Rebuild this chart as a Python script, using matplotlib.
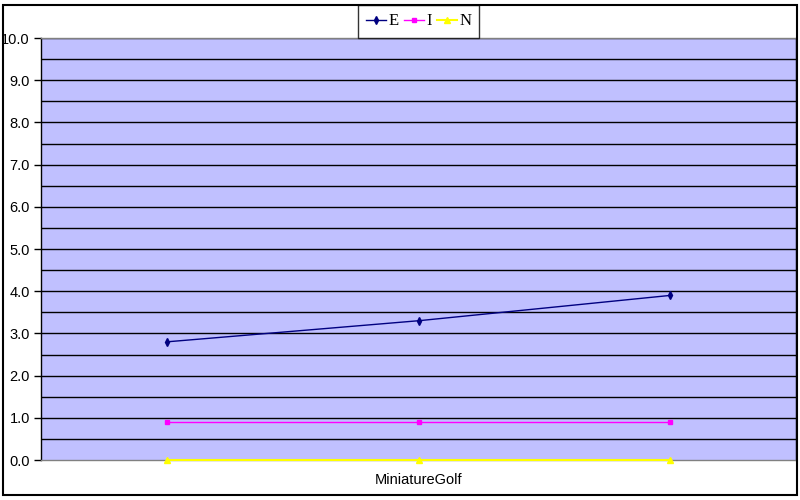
import numpy as np
import matplotlib
matplotlib.use("Agg")
import matplotlib.pyplot as plt
from matplotlib.patches import Rectangle

# --- data ---
positions = [1, 2, 3]
category_label = "MiniatureGolf"
series_names = ["E", "I", "N"]
e_vals = [2.8, 3.3, 3.9]
i_vals = [0.9, 0.9, 0.9]
n_vals = [0.0, 0.0, 0.0]
y_ticks = np.arange(0, 10.5, 1.0)

# --- figure ---
fig = plt.figure(figsize=(8, 5), dpi=100)
ax = fig.add_axes([41/800, 1 - 460/500, 755/800, 422/500])
ax.set_facecolor("#C0C0FF")

# gridlines every 0.5
for g in np.arange(0.5, 10.01, 0.5):
    ax.axhline(g, color="black", lw=1.0, zorder=1)

ax.plot(positions, e_vals, color="#000080", marker="d", ms=4, lw=1.0, label=series_names[0], zorder=3)
ax.plot(positions, i_vals, color="#FF00FF", marker="s", ms=3.5, lw=1.0, label=series_names[1], zorder=3)
ax.plot(positions, n_vals, color="#FFFF00", marker="^", ms=4, lw=1.5, label=series_names[2], zorder=3, clip_on=False)

ax.set_xlim(0.5, 3.5)
ax.set_ylim(0, 10)
ax.set_yticks(y_ticks)
ax.set_yticklabels([f"{v:.1f}" for v in y_ticks], fontfamily="Liberation Sans", fontsize=10.5)
ax.set_xticks([])
ax.text(2, -0.3, category_label, ha="center", va="top", fontfamily="Liberation Sans", fontsize=10.5)
ax.tick_params(axis="y", direction="out", length=5, width=1.0, pad=3)

ax.spines["left"].set_color("black")
ax.spines["right"].set_color("black")
ax.spines["top"].set_color("#808080")
ax.spines["bottom"].set_color("#808080")
for s in ax.spines.values():
    s.set_linewidth(1.0)

leg = ax.legend(loc="upper center", bbox_to_anchor=(0.5, 1 + 33/422), ncol=3, frameon=True,
                prop={"family": "Liberation Serif", "size": 12}, handlelength=1.2,
                handletextpad=0.15, columnspacing=0.3, borderpad=0.5, borderaxespad=0,
                fancybox=False)
leg.get_frame().set_edgecolor("black")
leg.get_frame().set_linewidth(1.0)

# outer border
fig.patches.append(Rectangle((3/800, 5/500), 794/800, 490/500, transform=fig.transFigure,
                             fill=False, edgecolor="black", lw=1.5))

fig.savefig("out.png", dpi=100)
